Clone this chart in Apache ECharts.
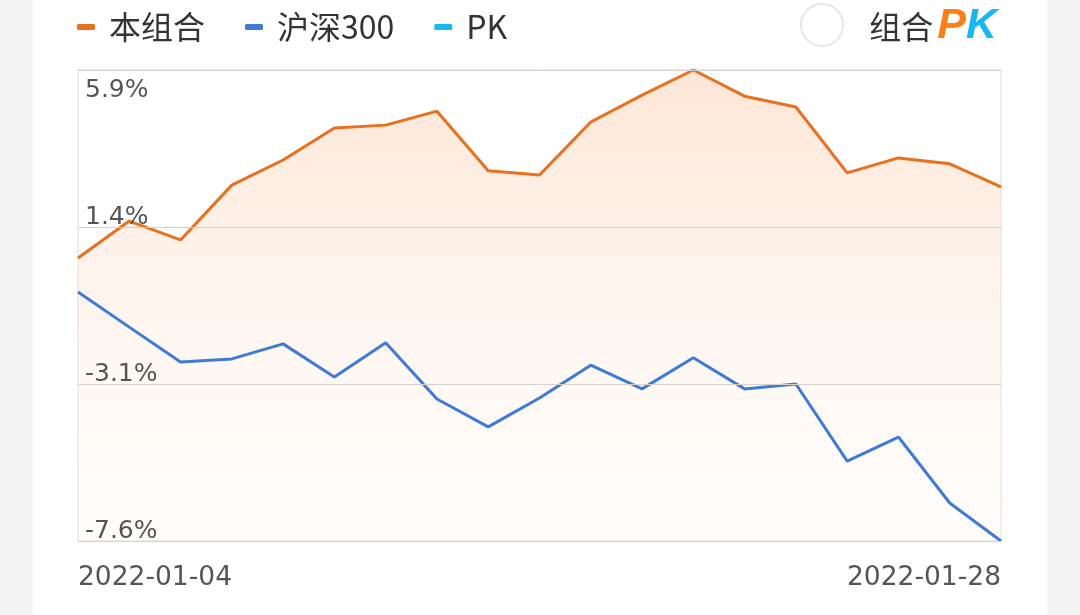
<!DOCTYPE html>
<html>
<head>
<meta charset="utf-8">
<style>
  * {margin: 0; padding: 0;}
  html, body {width: 1080px; height: 615px; background: #f4f4f4; overflow: hidden;}
  .card {position: absolute; left: 33px; top: 0; width: 1014px; height: 615px; background: #fff;}
  #chart {position: absolute; left: 0; top: 0; width: 1080px; height: 615px;}
</style>
<script src="https://cdn.jsdelivr.net/npm/echarts@6/dist/echarts.min.js"></script>
</head>
<body>
<div class="card"></div>
<div id="chart"></div>
<script>
var dates = ['2022-01-04', '2022-01-05', '2022-01-06', '2022-01-07', '2022-01-10', '2022-01-11',
  '2022-01-12', '2022-01-13', '2022-01-14', '2022-01-17', '2022-01-18', '2022-01-19',
  '2022-01-20', '2022-01-21', '2022-01-24', '2022-01-25', '2022-01-26', '2022-01-27', '2022-01-28']
// 本组合 收益率 %
var portfolio = [0.51, 1.57, 1.03, 2.60, 3.32, 4.24, 4.32, 4.72, 3.01, 2.89,
  4.41, 5.18, 5.90, 5.15, 4.84, 2.95, 3.38, 3.21, 2.55]
// 沪深300 收益率 %
var hs300 = [-0.46, -1.47, -2.47, -2.38, -1.95, -2.90, -1.92, -3.53, -4.33, -3.50,
  -2.56, -3.24, -2.35, -3.24, -3.10, -5.31, -4.62, -6.51, -7.60]
var pk = []
var yTicks = [-7.6, -3.1, 1.4, 5.9]

var yMin = yTicks[0]
var yMax = yTicks[yTicks.length - 1]
var yStep = Math.round((yTicks[1] - yTicks[0]) * 10) / 10

var chart = echarts.init(document.getElementById('chart'))
var labelFont = '"DejaVu Sans", sans-serif'
var cjkFont = '"Noto Sans CJK SC", "Noto Sans", sans-serif'

function pct(v) {
  return (Math.round(v * 10) / 10).toFixed(1) + '%'
}

var options = {
  animation: false,
  color: ['#e8701e', '#3f7bd6', '#1ab8f0'],
  legend: {
    left: 72,
    top: 6,
    itemWidth: 18,
    itemHeight: 6,
    itemGap: 40,
    icon: 'roundRect',
    textStyle: {
      color: '#333',
      fontSize: 32,
      padding: [0, 0, 0, 9],
      fontFamily: cjkFont
    },
    data: ['本组合', '沪深300', 'PK']
  },
  title: {
    right: 78,
    top: 0,
    text: '{a|组合}{p|P}{k|K}',
    textStyle: {
      fontWeight: 'normal',
      rich: {
        a: { fontSize: 32, color: '#333', fontWeight: 'normal', fontFamily: cjkFont, padding: [0, 4, 0, 0] },
        p: { fontSize: 43, color: '#ff7f15', fontWeight: 'bold', fontStyle: 'italic', fontFamily: '"Liberation Sans", Arial, sans-serif' },
        k: { fontSize: 43, color: '#16b7f2', fontWeight: 'bold', fontStyle: 'italic', fontFamily: '"Liberation Sans", Arial, sans-serif' }
      }
    }
  },
  graphic: [{
    type: 'circle',
    shape: { cx: 822, cy: 25, r: 21 },
    style: { fill: '#fff', stroke: '#e6e6e6', lineWidth: 2 }
  }],
  grid: {
    left: 78,
    right: 79,
    top: 70,
    bottom: 74,
    show: true,
    borderColor: '#dcdcdc',
    borderWidth: 1
  },
  xAxis: {
    type: 'category',
    data: dates,
    boundaryGap: false,
    axisLine: { show: false },
    axisTick: { show: false },
    axisLabel: {
      color: '#555',
      fontSize: 26.5,
      fontFamily: labelFont,
      margin: 24,
      interval: function(i) {
        return i === 0 || i === dates.length - 1
      },
      alignMinLabel: 'left',
      alignMaxLabel: 'right'
    }
  },
  yAxis: [{
    type: 'value',
    z: 6,
    min: yMin,
    max: yMax,
    interval: yStep,
    axisLine: { show: false },
    axisTick: { show: false },
    splitLine: { lineStyle: { color: '#d8d0cc', width: 1 } },
    axisLabel: {
      inside: true,
      margin: 7,
      verticalAlign: 'bottom',
      padding: [0, 0, -3, 0],
      color: '#555',
      fontSize: 25,
      fontFamily: labelFont,
      formatter: function(v) {
        return Math.abs(v - yMax) < 0.01 ? '' : pct(v)
      }
    }
  }, {
    type: 'value',
    z: 6,
    position: 'left',
    min: yMin,
    max: yMax,
    interval: yStep,
    axisLine: { show: false },
    axisTick: { show: false },
    splitLine: { show: false },
    axisLabel: {
      inside: true,
      margin: 7,
      verticalAlign: 'top',
      padding: [8, 0, 0, 0],
      color: '#555',
      fontSize: 25,
      fontFamily: labelFont,
      formatter: function(v) {
        return Math.abs(v - yMax) < 0.01 ? pct(v) : ''
      }
    }
  }],
  series: [
    {
      name: '本组合',
      type: 'line',
      data: portfolio,
      symbol: 'none',
      lineStyle: { width: 3, color: '#e8701e' },
      areaStyle: {
        origin: 'start',
        color: new echarts.graphic.LinearGradient(0, 0, 0, 1, [
          { offset: 0, color: 'rgba(252, 210, 182, 0.8)' },
          { offset: 1, color: 'rgba(255, 246, 240, 0.3)' }
        ])
      },
      z: 3
    },
    {
      name: '沪深300',
      type: 'line',
      data: hs300,
      symbol: 'none',
      lineStyle: { width: 3, color: '#3f7bd6' },
      z: 4
    },
    {
      name: 'PK',
      type: 'line',
      data: pk,
      symbol: 'none',
      lineStyle: { width: 3, color: '#1ab8f0' }
    }
  ]
}
chart.setOption(options)
</script>
</body>
</html>
